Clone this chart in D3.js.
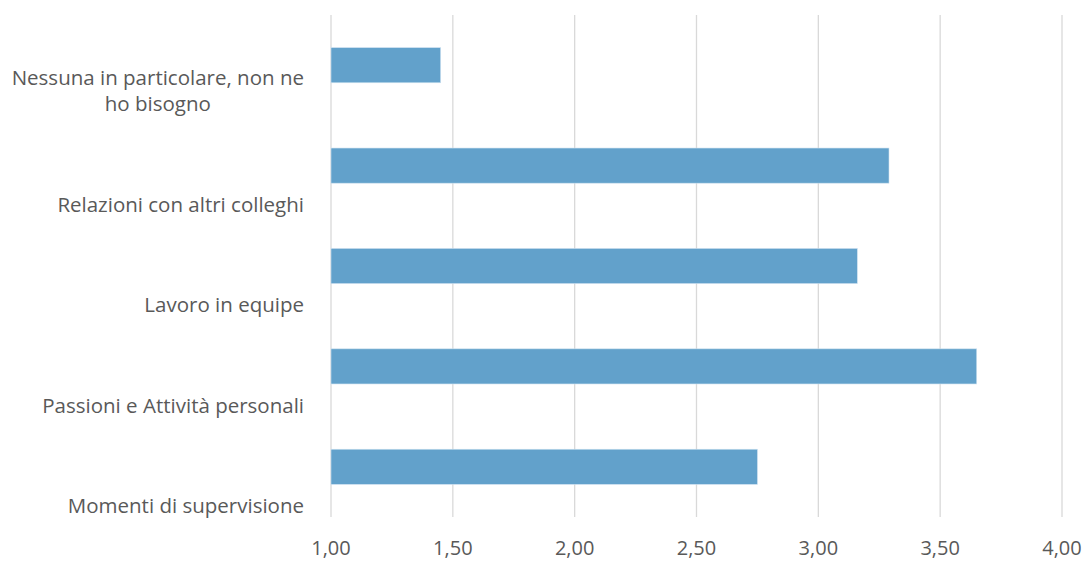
<!DOCTYPE html>
<html><head><meta charset="utf-8">
<script src="https://cdn.jsdelivr.net/npm/d3@7"></script>
<style>
html,body{margin:0;padding:0;background:#fff;}
text{font-family:"Open Sans",Lato,sans-serif;fill:#595959;}
</style></head>
<body><svg id="c" width="1087" height="561"></svg>
<script>
const categories = ["Nessuna in particolare, non ne ho bisogno","Relazioni con altri colleghi","Lavoro in equipe","Passioni e Attività personali","Momenti di supervisione"];
const labelLines = [["Nessuna in particolare, non ne","ho bisogno"],["Relazioni con altri colleghi"],["Lavoro in equipe"],["Passioni e Attività personali"],["Momenti di supervisione"]];
const values = [1.45, 3.29, 3.16, 3.65, 2.75];
const ticks = [1.0,1.5,2.0,2.5,3.0,3.5,4.0];

const svg = d3.select("#c");
const x = d3.scaleLinear().domain([1,4]).range([331,1062]);
const y = d3.scaleBand().domain(categories).range([15,517]).paddingInner(0.65).paddingOuter(0.325);

svg.append("g").selectAll("line").data(ticks).join("line")
  .attr("x1",d=>x(d)).attr("x2",d=>x(d)).attr("y1",15).attr("y2",517)
  .attr("stroke","#d9d9d9").attr("stroke-width",1.3);

svg.append("g").selectAll("rect").data(values).join("rect")
  .attr("x",x(1)).attr("y",(d,i)=>y(categories[i]))
  .attr("width",d=>x(d)-x(1)).attr("height",y.bandwidth())
  .attr("fill","#62a1cb").attr("stroke","#cfe2f0").attr("stroke-width",0.6);

const fs = 20.5;
const lab = svg.append("g").selectAll("text").data(categories).join("text")
  .attr("font-size",fs);
lab.each(function(d,i){
  const t = d3.select(this);
  labelLines[i].forEach(ln=>t.append("tspan").text(ln));
});
lab.each(function(d,i){
  const t = d3.select(this);
  const lines = labelLines[i];
  let maxW = 0;
  t.selectAll("tspan").each(function(){ maxW = Math.max(maxW, this.getComputedTextLength()); });
  const cx = 304 - maxW/2;
  const cy = y(d)+y.bandwidth()/2 + 39;
  t.selectAll("tspan").attr("x",cx).attr("text-anchor","middle")
    .attr("y",(l,j)=>cy - (lines.length-1-j)*26.5).attr("dy","0.35em");
});

svg.append("g").selectAll("text.tk").data(ticks).join("text").attr("class","tk")
  .attr("x",d=>x(d)).attr("y",548).attr("dy","0.35em").attr("text-anchor","middle")
  .attr("font-size",20).text(d=>d3.format(".2f")(d).replace(".",","));
</script></body></html>
